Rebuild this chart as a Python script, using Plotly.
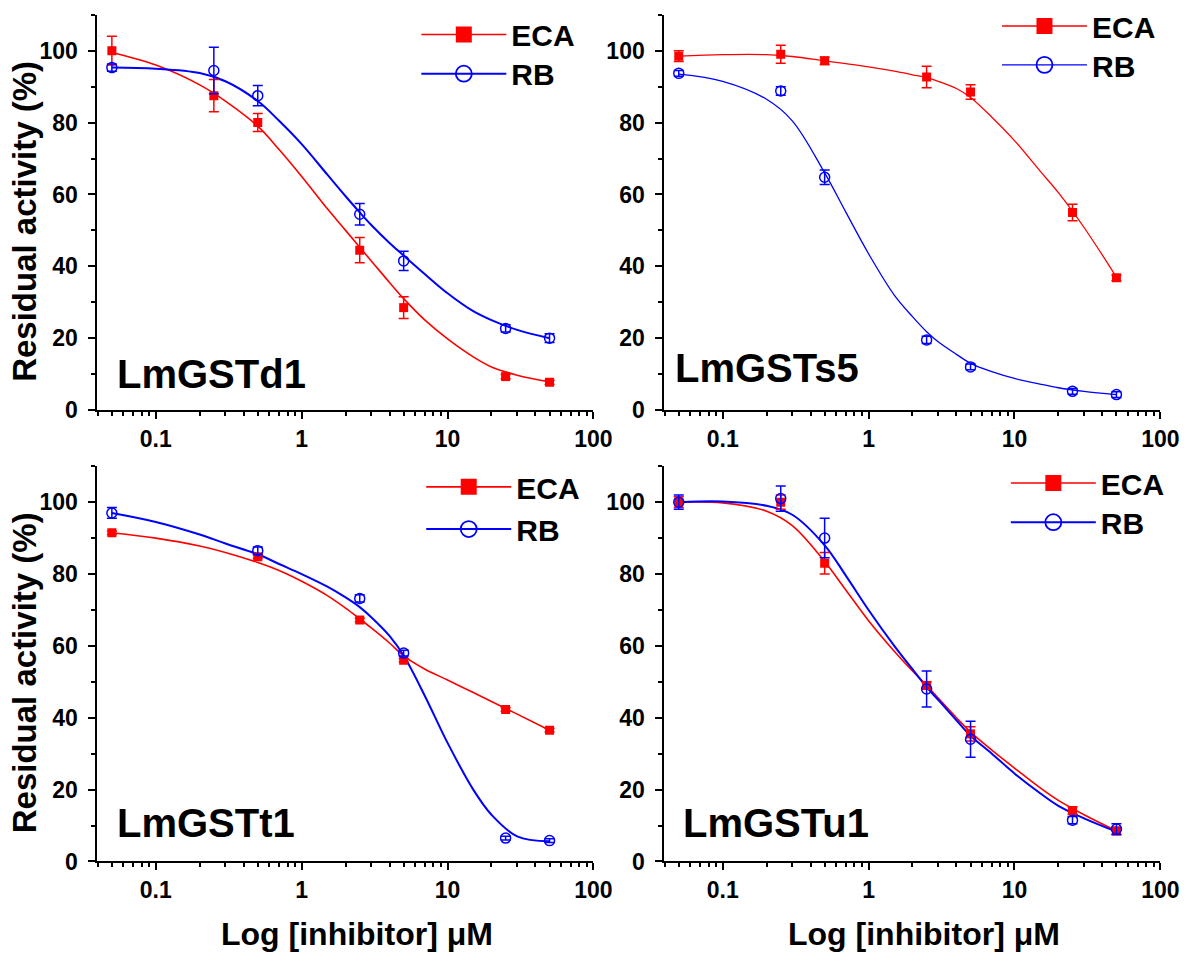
import plotly.graph_objects as go

W, H = 1201, 967

# ---------------- data ----------------
x_pts = [0.05, 0.25, 0.5, 2.5, 5, 25, 50]
x_pts_t1 = [0.05, 0.5, 2.5, 5, 25, 50]

# LmGSTd1
d1_eca = [100, 87.5, 80, 44.5, 28.5, 9.3, 7.7]
d1_eca_err = [4, 4.5, 2.5, 3.5, 3, 0.6, 0.6]
d1_rb = [95.3, 94.5, 87.5, 54.5, 41.5, 22.7, 20]
d1_rb_err = [1, 6.5, 2.8, 3, 2.7, 1, 1.2]

# LmGSTs5
s5_eca = [98.5, 99, 97.2, 92.7, 88.5, 55, 36.8]
s5_eca_err = [1.5, 2.5, 1, 3, 2, 2.3, 0.8]
s5_rb = [93.7, 88.8, 64.8, 19.5, 12, 5.2, 4.3]
s5_rb_err = [0.8, 1.2, 2, 1, 0.8, 0.8, 0.8]

# LmGSTt1
t1_eca = [91.5, 84.8, 67.2, 56, 42.3, 36.5]
t1_eca_err = [0.5, 0.5, 0.5, 0.5, 0.5, 0.5]
t1_rb = [97, 86.5, 73.2, 58, 6.5, 5.8]
t1_rb_err = [1.5, 1, 1, 0.8, 0.5, 0.5]

# LmGSTu1
u1_eca = [100, 100, 83, 49, 35.5, 14.2, 8.5]
u1_eca_err = [1.5, 2, 3, 1, 2, 1, 1]
u1_rb = [100, 101, 90, 48, 34, 11.5, 9]
u1_rb_err = [2, 3.5, 5.5, 5, 5, 1, 1.5]

# fitted curves
fit_x = [0.05, 0.1, 0.2, 0.3, 0.5, 0.7, 1, 1.5, 2, 2.5, 3, 4, 5, 7, 10, 15, 20, 30, 50]
d1_eca_fit = [99.5, 96, 90.5, 86, 79, 72.5, 65, 56, 50, 45.3, 41.5, 35.5, 31, 25, 19.8, 14.8, 12, 9.7, 7.8]
d1_rb_fit = [95.3, 95, 93.8, 91.5, 86, 80.5, 74, 65.5, 59.5, 55, 51.5, 46.5, 43, 37.8, 32.5, 27.5, 25, 22.3, 20]
s5_eca_fit = [98.5, 98.9, 98.9, 98.4, 97.2, 96.4, 95.5, 94.3, 93.3, 92.5, 91.5, 89.5, 87, 81.5, 75, 66.5, 60.5, 50.8, 37]
s5_rb_fit = [93.5, 91.5, 86.5, 80.5, 66, 55, 43.5, 32, 26, 21.8, 19, 15.5, 13, 10.7, 8.8, 7.2, 6.2, 5.2, 4.3]
t1_eca_fit = [91.5, 90, 87.8, 86, 83.2, 81, 78, 74, 70.5, 67.5, 65, 60.8, 57.2, 53.5, 50.5, 47, 44.5, 41, 36.5]
t1_rb_fit = [97, 94.5, 91, 88.5, 85.5, 82.8, 80, 76.5, 73.5, 70.8, 68, 62.8, 57.3, 46, 33, 20, 13, 7, 5.6]
u1_eca_fit = [100, 99.8, 97.5, 93.5, 83.5, 75.5, 67, 58.5, 53, 49, 45.5, 40, 36, 31, 26, 20.5, 17, 13, 8.5]
u1_rb_fit = [100, 100.2, 99, 96.5, 88, 79.5, 70, 60, 53.5, 48.5, 45, 39.3, 35, 30, 24.5, 19, 15.5, 12, 8.3]

panel_names = ["LmGSTd1", "LmGSTs5", "LmGSTt1", "LmGSTu1"]
series_names = ["ECA", "RB"]
y_title = "Residual activity (%)"
x_title = "Log [inhibitor] \u03bcM"
y_tickvals = [0, 20, 40, 60, 80, 100]
x_tickvals = [0.1, 1, 10, 100]
x_ticktext = ["0.1", "1", "10", "100"]

panels = [
    (x_pts, d1_eca, d1_eca_err, d1_rb, d1_rb_err, d1_eca_fit, d1_rb_fit),
    (x_pts, s5_eca, s5_eca_err, s5_rb, s5_rb_err, s5_eca_fit, s5_rb_fit),
    (x_pts_t1, t1_eca, t1_eca_err, t1_rb, t1_rb_err, t1_eca_fit, t1_rb_fit),
    (x_pts, u1_eca, u1_eca_err, u1_rb, u1_rb_err, u1_eca_fit, u1_rb_fit),
]

# ---------------- layout geometry (pixels) ----------------
FONT = "Arial, 'Liberation Sans', sans-serif"
RED = "#ff0000"
BLUE = "#0000ff"

def px(x):
    return x / W

def py(y):
    return 1 - y / H

col_px = [(99, 603), (675, 1179)]
row_px = [(10, 412.7), (470, 872.7)]

fig = go.Figure()

minor_vals = []
for dec in [0.01, 0.1, 1, 10]:
    for m in range(2, 10):
        v = m * dec
        if 0.039 < v < 100:
            minor_vals.append(round(v, 4))

# legend: (line start x, row1 centre y, row2 centre y)
legend_pos = [(428, 30, 70), (1018, 21, 61), (433, 491, 534), (1027, 487, 527)]
label_pos = [(117, 376), (684, 370), (117, 834), (692, 834)]
curve_w = [(1.6, 2.0), (1.3, 1.3), (1.6, 2.0), (1.6, 2.0)]

leg_id = 0
for i, (xs, eca, eca_e, rb, rb_e, eca_f, rb_f) in enumerate(panels):
    r, c = divmod(i, 2)
    ax = "" if i == 0 else str(i + 1)
    xa, ya = "x" + ax, "y" + ax
    wr, wb = curve_w[i]

    # fitted curves
    fig.add_trace(go.Scatter(x=fit_x, y=eca_f, mode="lines", line=dict(color=RED, width=wr, shape="spline"),
                             xaxis=xa, yaxis=ya, showlegend=False, hoverinfo="skip"))
    fig.add_trace(go.Scatter(x=fit_x, y=rb_f, mode="lines", line=dict(color=BLUE, width=wb, shape="spline"),
                             xaxis=xa, yaxis=ya, showlegend=False, hoverinfo="skip"))
    # data points
    fig.add_trace(go.Scatter(x=xs, y=eca, mode="markers",
                             marker=dict(symbol="square", size=9, color=RED),
                             error_y=dict(type="data", array=eca_e, color=RED, thickness=1.5, width=5),
                             xaxis=xa, yaxis=ya, showlegend=False))
    fig.add_trace(go.Scatter(x=xs, y=rb, mode="markers",
                             marker=dict(symbol="circle-open", size=10, color=BLUE, line=dict(width=1.5, color=BLUE)),
                             error_y=dict(type="data", array=rb_e, color=BLUE, thickness=1.5, width=5),
                             xaxis=xa, yaxis=ya, showlegend=False))

    # legend entries: one legend per row
    specs = [
        (series_names[0], dict(color=RED, width=wr), dict(symbol="square", size=16, color=RED)),
        (series_names[1], dict(color=BLUE, width=wb),
         dict(symbol="circle-open", size=16, color=BLUE, line=dict(width=1.8, color=BLUE))),
    ]
    for k, (nm, ln, mk) in enumerate(specs):
        leg_id += 1
        leg = "legend" if leg_id == 1 else "legend" + str(leg_id)
        fig.add_trace(go.Scatter(x=[None], y=[None], mode="lines+markers", name=nm,
                                 line=ln, marker=mk, xaxis=xa, yaxis=ya, legend=leg))
        fig.update_layout(**{leg: dict(
            x=px(legend_pos[i][0] - 5), y=py(legend_pos[i][1 + k]), xanchor="left", yanchor="middle",
            xref="paper", yref="paper",
            bgcolor="rgba(0,0,0,0)", borderwidth=0, itemwidth=85,
            font=dict(family=FONT, size=30, color="black", weight="bold"),
        )})

    x0, x1 = col_px[c]
    y0, y1 = row_px[r]
    fig.update_layout(**{
        "xaxis" + ax: dict(
            type="log", range=[-1.4, 2], domain=[px(x0), px(x1)], anchor=ya,
            showline=True, linecolor="black", linewidth=2, mirror=False,
            ticks="outside", ticklen=7, tickwidth=2, tickcolor="black",
            tickvals=x_tickvals, ticktext=x_ticktext,
            tickfont=dict(family=FONT, size=23, color="black", weight="bold"),
            showgrid=False, zeroline=False,
            minor=dict(tickvals=minor_vals, ticks="outside", ticklen=4, tickwidth=2, tickcolor="black", showgrid=False),
        ),
        "yaxis" + ax: dict(
            range=[0, 110], domain=[py(y1), py(y0)], anchor=xa,
            showline=True, linecolor="black", linewidth=2, mirror=False,
            ticks="outside", ticklen=7, tickwidth=2, tickcolor="black",
            tickvals=y_tickvals, ticklabelstandoff=6,
            tickfont=dict(family=FONT, size=23, color="black", weight="bold"),
            showgrid=False, zeroline=False,
            minor=dict(dtick=10, ticks="outside", ticklen=4, tickwidth=2, tickcolor="black", showgrid=False),
        ),
    })

    # panel label
    fig.add_annotation(text=panel_names[i], x=px(label_pos[i][0]), y=py(label_pos[i][1]),
                       xref="paper", yref="paper", xanchor="left", yanchor="middle", showarrow=False,
                       font=dict(family=FONT, size=40, color="black", weight="bold"))

# axis titles
for r in range(2):
    y0, y1 = row_px[r]
    fig.add_annotation(text=y_title, x=px(25), y=py((y0 + y1) / 2 + 9), xref="paper", yref="paper",
                       xanchor="center", yanchor="middle", textangle=-90, showarrow=False,
                       font=dict(family=FONT, size=33, color="black", weight="bold"))
for c in range(2):
    x0, x1 = col_px[c]
    fig.add_annotation(text=x_title, x=px((x0 + x1) / 2 + 12), y=py(947), xref="paper", yref="paper",
                       xanchor="center", yanchor="middle", showarrow=False,
                       font=dict(family=FONT, size=32, color="black", weight="bold"))

fig.update_layout(
    width=W, height=H, margin=dict(l=0, r=0, t=0, b=0),
    paper_bgcolor="white", plot_bgcolor="white",
)

fig.write_html("out.html")
